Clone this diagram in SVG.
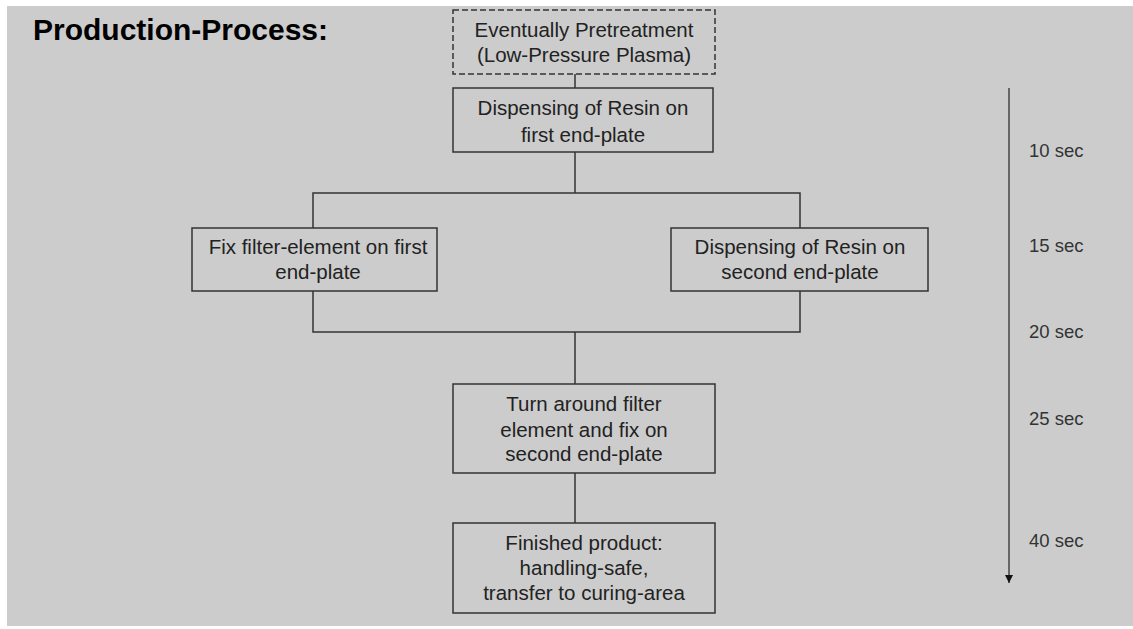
<svg xmlns="http://www.w3.org/2000/svg" width="1133" height="629" viewBox="0 0 1133 629">
<defs>
<style>
.box{fill:#cccccc;stroke:#333333;stroke-width:1.5}
.dash{stroke-dasharray:6 3}
.t{font-family:"Liberation Sans",Arial,sans-serif;font-size:20.5px;fill:#222222;text-anchor:middle}
.s{font-family:"Liberation Sans",Arial,sans-serif;font-size:18.5px;fill:#333333}
.c{fill:none;stroke:#333333;stroke-width:1.5}
</style>
<marker id="ah" viewBox="0 0 10 10" refX="10" refY="5" markerWidth="4" markerHeight="4" orient="auto" markerUnits="strokeWidth">
<path d="M0,0 L10,5 L0,10 Z" fill="#111111"/>
</marker>
</defs>
<rect x="0" y="0" width="1133" height="629" fill="#ffffff"/>
<rect x="7" y="6" width="1126" height="620" fill="#cccccc"/>
<text x="33" y="40" font-family="Liberation Sans,Arial,sans-serif" font-size="30" font-weight="bold" fill="#000000">Production-Process:</text>
<g id="connectors">
<line class="c" x1="575" y1="74" x2="575" y2="88"/>
<polyline class="c" points="575,152 575,193"/>
<polyline class="c" points="313,228 313,193 800,193 800,228"/>
<polyline class="c" points="313,291 313,332 800,332 800,291"/>
<line class="c" x1="575" y1="332" x2="575" y2="384"/>
<line class="c" x1="575" y1="473" x2="575" y2="523"/>
</g>
<g id="pretreatment">
<rect class="box dash" x="453" y="10" width="262" height="64"/>
<text class="t" x="584" y="37">Eventually Pretreatment</text>
<text class="t" x="584" y="62">(Low-Pressure Plasma)</text>
</g>
<g id="dispense1">
<rect class="box" x="453" y="88" width="260" height="64"/>
<text class="t" x="583" y="115">Dispensing of Resin on</text>
<text class="t" x="583" y="142">first end-plate</text>
</g>
<g id="fix1">
<rect class="box" x="192" y="228" width="245" height="63"/>
<text class="t" x="318" y="254">Fix filter-element on first</text>
<text class="t" x="318" y="279">end-plate</text>
</g>
<g id="dispense2">
<rect class="box" x="671" y="228" width="257" height="63"/>
<text class="t" x="800" y="254">Dispensing of Resin on</text>
<text class="t" x="800" y="279">second end-plate</text>
</g>
<g id="turn">
<rect class="box" x="453" y="384" width="262" height="89"/>
<text class="t" x="584" y="411">Turn around filter</text>
<text class="t" x="584" y="437">element and fix on</text>
<text class="t" x="584" y="461">second end-plate</text>
</g>
<g id="finished">
<rect class="box" x="453" y="523" width="262" height="90"/>
<text class="t" x="584" y="550">Finished product:</text>
<text class="t" x="584" y="575">handling-safe,</text>
<text class="t" x="584" y="600">transfer to curing-area</text>
</g>
<g id="timeline">
<line x1="1009" y1="88" x2="1009" y2="583" stroke="#666666" stroke-width="2" marker-end="url(#ah)"/>
<text class="s" x="1029" y="157">10 sec</text>
<text class="s" x="1029" y="252">15 sec</text>
<text class="s" x="1029" y="338">20 sec</text>
<text class="s" x="1029" y="425">25 sec</text>
<text class="s" x="1029" y="547">40 sec</text>
</g>
</svg>
